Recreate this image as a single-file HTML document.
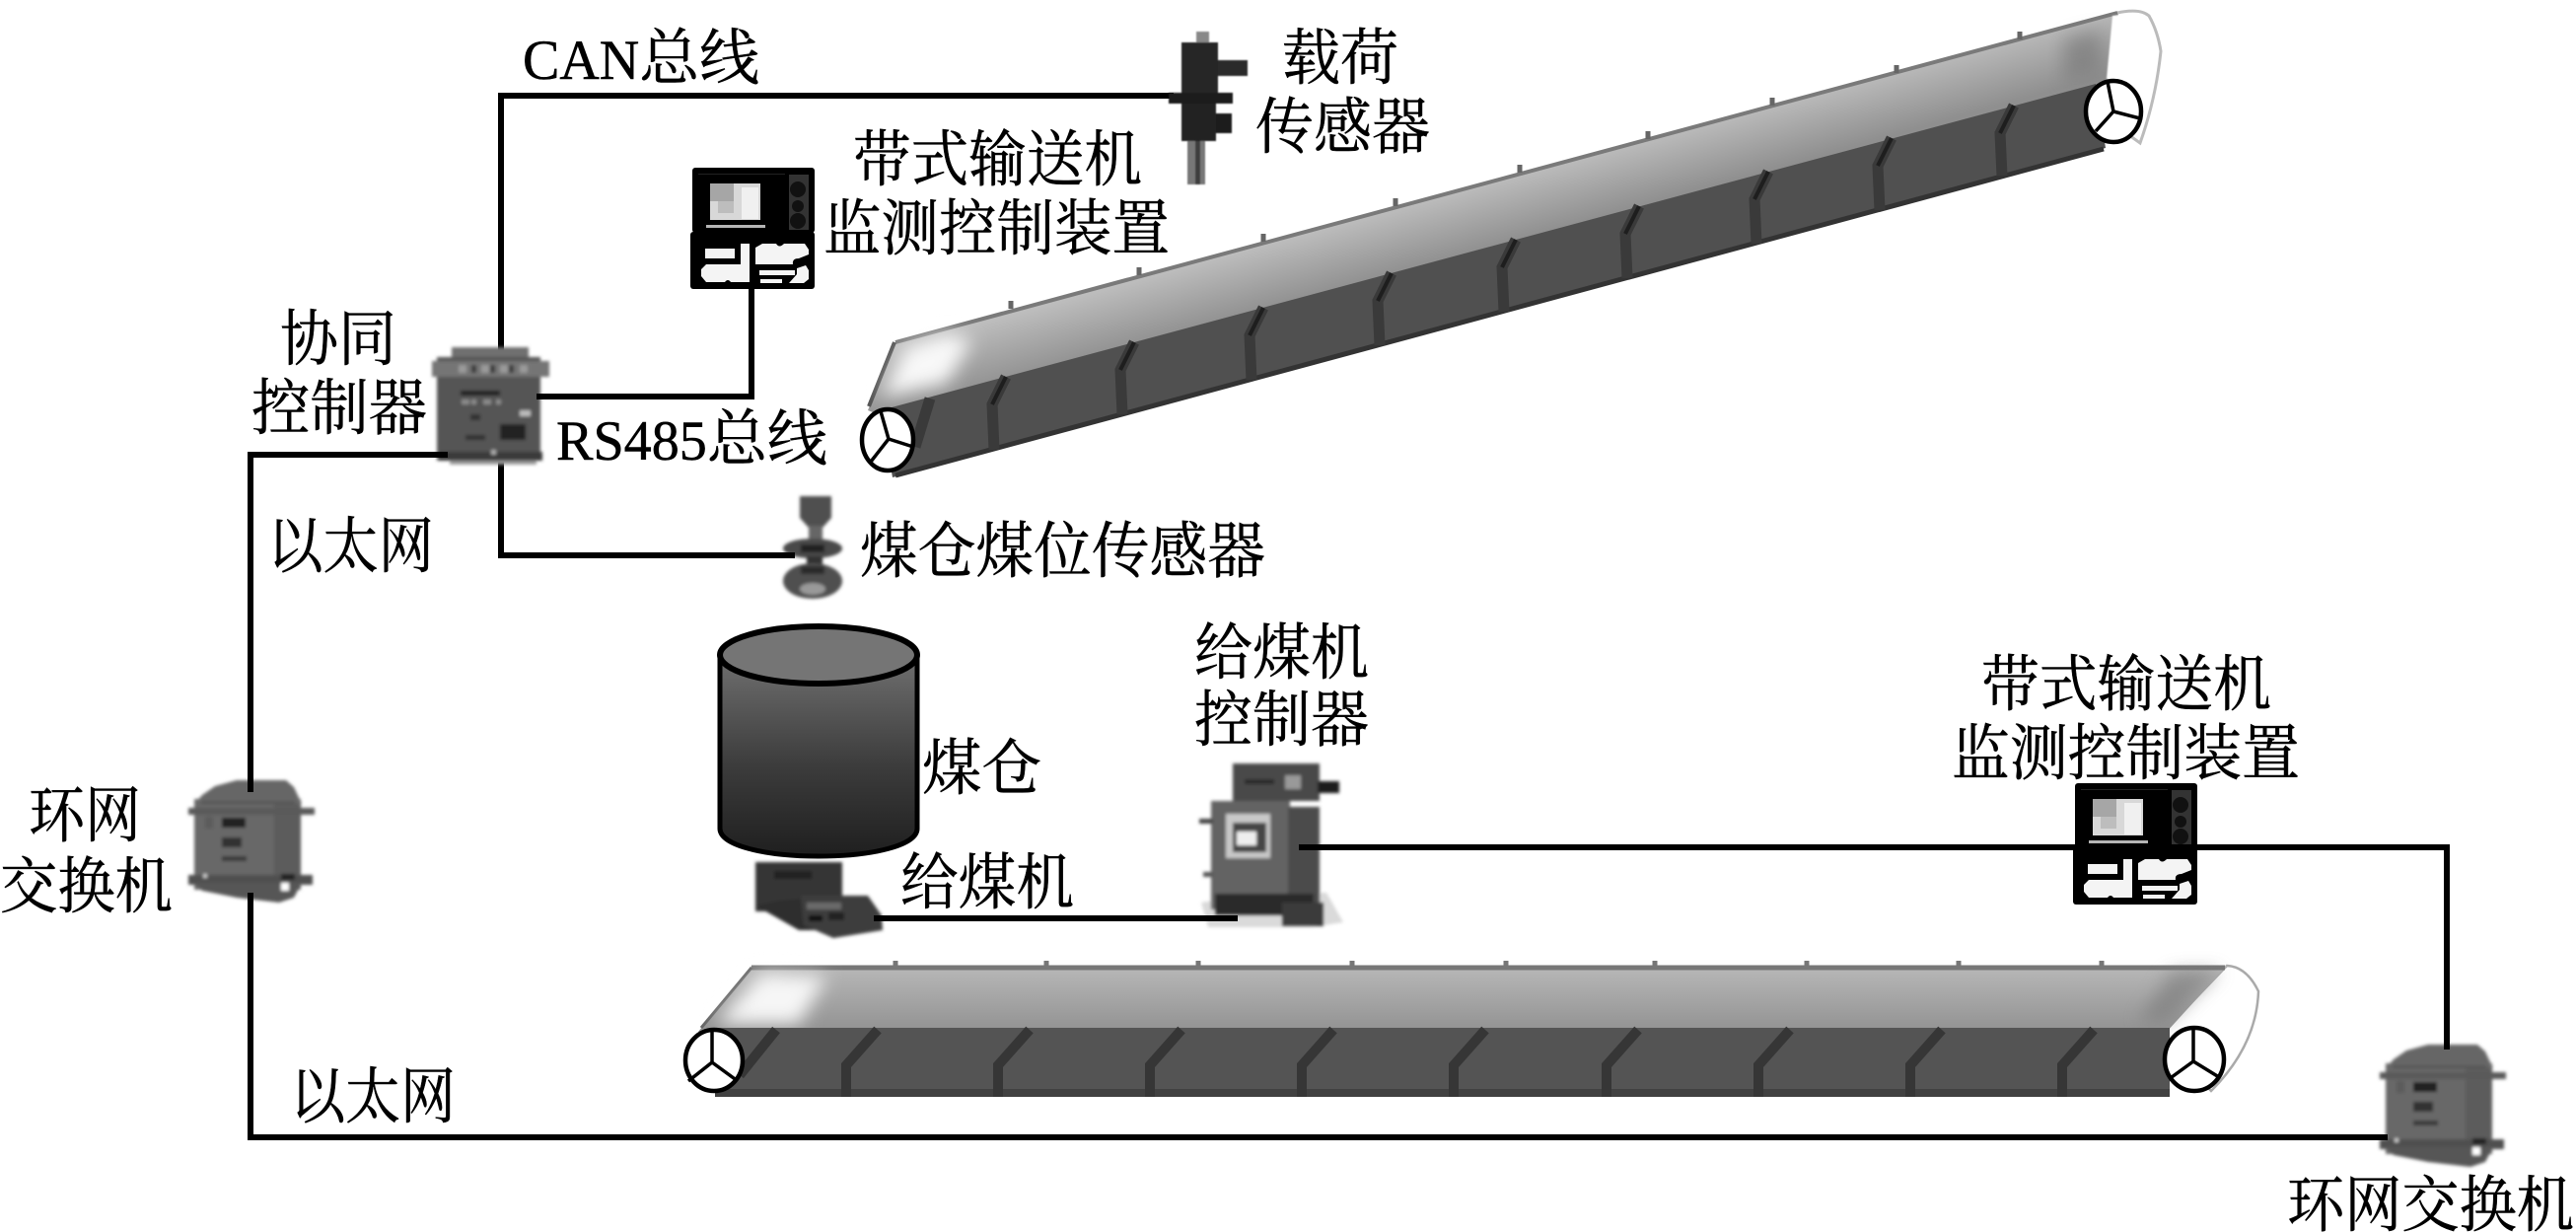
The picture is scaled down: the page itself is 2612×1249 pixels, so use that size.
<!DOCTYPE html>
<html><head><meta charset="utf-8"><style>
html,body{margin:0;padding:0;background:#fff;width:2612px;height:1249px;overflow:hidden}
svg{display:block}
text{font-family:"Liberation Serif","Noto Serif CJK SC",serif;font-size:62px;fill:#000;stroke:#000;stroke-width:.5}
tspan.l{font-size:57px}
</style></head><body>
<svg width="2612" height="1249" viewBox="0 0 2612 1249" xmlns="http://www.w3.org/2000/svg">
<defs>
<filter id="b1" x="-10%" y="-10%" width="120%" height="120%"><feGaussianBlur stdDeviation="1.6"/></filter>
<filter id="b2" x="-10%" y="-10%" width="120%" height="120%"><feGaussianBlur stdDeviation="0.9"/></filter>
<filter id="b6" x="-40%" y="-40%" width="180%" height="180%"><feGaussianBlur stdDeviation="9"/></filter>
<linearGradient id="cyl" x1="0" y1="0" x2="0" y2="1"><stop offset="0" stop-color="#707070"/><stop offset="0.55" stop-color="#3c3c3c"/><stop offset="1" stop-color="#1f1f1f"/></linearGradient>
<linearGradient id="top1" gradientUnits="userSpaceOnUse" x1="1500" y1="186" x2="1518" y2="250"><stop offset="0" stop-color="#bdbdbd"/><stop offset="1" stop-color="#8f8f8f"/></linearGradient>
<linearGradient id="top2" x1="0" y1="0" x2="0" y2="1"><stop offset="0" stop-color="#b8b8b8"/><stop offset="1" stop-color="#929292"/></linearGradient>
<g id="mon">
<rect x="702" y="170" width="124" height="66" rx="3" fill="#000"/>
<rect x="700" y="235" width="126" height="58" rx="3" fill="#000"/>
<rect x="800" y="177" width="20" height="56" fill="#333"/>
<circle cx="809" cy="192" r="8" fill="#111"/><circle cx="809" cy="209" r="6" fill="#111"/><circle cx="809" cy="224" r="8" fill="#111"/>
<rect x="708" y="176" width="88" height="1" fill="#222"/>
<rect x="720" y="186" width="51" height="37" fill="#d8d8d8"/>
<rect x="720" y="186" width="24" height="18" fill="#a6a6a6"/>
<rect x="728" y="204" width="16" height="12" fill="#bdbdbd"/>
<rect x="752" y="190" width="17" height="32" fill="#f0f0f0"/>
<rect x="716" y="228" width="60" height="3" fill="#b5b5b5"/>
<rect x="715" y="252" width="30" height="10" fill="#f4f4f4"/>
<path d="M760 247H751V268H716L711 273V280L716 286H735Q738 282 741 286H760Z" fill="#f4f4f4"/>
<path d="M766 251L773 247H787Q790 252 795 247H816L820 253V258L810 262Q803 262 804 268H766Z" fill="#f4f4f4"/>
<rect x="770" y="274" width="36" height="5" fill="#f4f4f4"/><rect x="771" y="283" width="22" height="4" fill="#f4f4f4"/>
<path d="M800 287L808 278V272L817 269L820 274V283L815 287Z" fill="#f4f4f4"/>
</g>
<g id="sw" filter="url(#b1)">
<path d="M205 806L218 797L240 791H290L298 798L306 815H197Z" fill="#666"/>
<rect x="197" y="810" width="108" height="92" fill="#686868"/>
<rect x="204" y="812" width="95" height="3" fill="#575757"/>
<rect x="278" y="815" width="27" height="85" fill="#5c5c5c"/>
<rect x="191" y="819" width="128" height="7" fill="#5a5a5a"/>
<rect x="191" y="887" width="126" height="10" fill="#505050"/>
<path d="M197 895H306L298 910L283 915L240 910L205 903Z" fill="#575757"/>
<rect x="225" y="829" width="24" height="10" fill="#222"/>
<rect x="225" y="849" width="20" height="10" fill="#333"/>
<rect x="225" y="868" width="25" height="5" fill="#3a3a3a"/>
<rect x="285" y="886" width="14" height="6" fill="#222"/>
<rect x="285" y="895" width="8" height="8" fill="#fff"/>
<rect x="206" y="886" width="4" height="4" fill="#ccc"/>
<rect x="208" y="828" width="8" height="12" fill="#5c5c5c"/>
</g>
</defs>
<rect width="2612" height="1249" fill="#fff"/>

<!-- upper conveyor -->
<path d="M2147 13Q2170 8 2179 16Q2188 32 2191 52Q2186 100 2170 145L2135 120L2130 70Z" fill="#fff" stroke="#bbb" stroke-width="3"/>
<path d="M907 347L2147 13L2137 84L890 420L880 416Z" fill="url(#top1)"/>
<path d="M908 347L2147 13" stroke="#7a7a7a" stroke-width="4" fill="none"/>
<path d="M907 347L881 412" stroke="#555" stroke-width="4" fill="none"/>
<path d="M918 352L894 402L960 388L985 345L960 338Z" fill="#f8f8f8" filter="url(#b6)"/>
<path d="M2093 40L2130 30L2132 74L2093 84Z" fill="#7c7c7c" opacity=".7" filter="url(#b6)"/>
<path d="M2142 16L2136 80L2165 90L2178 30L2170 14Z" fill="#fff" filter="url(#b2)"/>
<path d="M893 416L2125 85L2135 150L905 484Z" fill="#505050"/>
<path d="M908 482L2133 151" stroke="#333" stroke-width="5" fill="none"/>
<g stroke="#3a3a3a" stroke-width="11" fill="none">
<path d="M943 404L928 453"/>
<path d="M1020 382L1006 410L1008 456"/><path d="M1150 347L1136 375L1138 420"/><path d="M1281 312L1267 340L1269 385"/><path d="M1411 277L1397 305L1399 350"/><path d="M1537 243L1523 271L1525 316"/><path d="M1662 209L1648 237L1650 282"/><path d="M1793 174L1779 202L1781 247"/><path d="M1918 140L1904 168L1906 213"/><path d="M2042 107L2028 135L2030 178"/>
</g>
<g stroke="#1e1e1e" stroke-width="4" fill="none">
<path d="M1020 382L1006 410"/><path d="M1150 347L1136 375"/><path d="M1281 312L1267 340"/><path d="M1411 277L1397 305"/><path d="M1537 243L1523 271"/><path d="M1662 209L1648 237"/><path d="M1793 174L1779 202"/><path d="M1918 140L1904 168"/><path d="M2042 107L2028 135"/>
</g>
<g stroke="#666" stroke-width="5">
<path d="M1025 305V313"/><path d="M1155 271V279"/><path d="M1281 237V245"/><path d="M1415 201V209"/><path d="M1541 167V175"/><path d="M1671 133V141"/><path d="M1797 99V107"/><path d="M1923 66V74"/><path d="M2048 32V40"/>
</g>
<g fill="#fff" stroke="#000" stroke-width="4.5">
<ellipse cx="900" cy="446" rx="26" ry="31"/>
<ellipse cx="2143" cy="113" rx="28" ry="31"/>
</g>
<g stroke="#000" stroke-width="3.5" fill="none">
<path d="M901 445L893 417M901 445L926 453M901 445L883 468"/>
<path d="M2143 113L2137 83M2143 113L2170 120M2143 113L2125 133"/>
</g>

<!-- lower conveyor -->
<path d="M2258 979Q2278 980 2290 1005Q2288 1060 2242 1106L2190 1050Z" fill="#fff" stroke="#aaa" stroke-width="2.5"/>
<path d="M762 979L2258 979L2197 1046L708 1046Z" fill="url(#top2)"/>
<path d="M762 981H2256" stroke="#777" stroke-width="5"/>
<path d="M762 981L711 1042" stroke="#666" stroke-width="3"/>
<path d="M772 986L726 1038H810L838 990Z" fill="#f6f6f6" filter="url(#b6)"/>
<path d="M2252 984L2198 1036H2168L2202 985Z" fill="#777" opacity=".6" filter="url(#b6)"/>
<rect x="725" y="1042" width="1475" height="70" fill="#545454"/>
<rect x="725" y="1104" width="1475" height="8" fill="#414141"/>
<g stroke="#363636" stroke-width="10" fill="none">
<path d="M787 1044L750 1090"/>
<path d="M890 1044L858 1080V1112"/><path d="M1044 1044L1012 1080V1112"/><path d="M1198 1044L1166 1080V1112"/><path d="M1352 1044L1320 1080V1112"/><path d="M1506 1044L1474 1080V1112"/><path d="M1661 1044L1629 1080V1112"/><path d="M1815 1044L1783 1080V1112"/><path d="M1969 1044L1937 1080V1112"/><path d="M2123 1044L2091 1080V1112"/>
</g>
<g stroke="#777" stroke-width="5">
<path d="M908 974V983M1061 974V983M1215 974V983M1371 974V983M1527 974V983M1678 974V983M1832 974V983M1986 974V983M2131 974V983"/>
</g>
<g fill="#fff" stroke="#000" stroke-width="4.5">
<ellipse cx="724" cy="1075" rx="29" ry="31"/>
<ellipse cx="2225" cy="1074" rx="30" ry="32"/>
</g>
<g stroke="#000" stroke-width="3.5" fill="none">
<path d="M722 1077V1044M722 1077L698 1096M722 1077L748 1096"/>
<path d="M2224 1076V1042M2224 1076L2202 1092M2224 1076L2250 1092"/>
</g>

<!-- connector lines -->
<g stroke="#000" stroke-width="6" fill="none" stroke-linejoin="miter">
<path d="M1190 97H508V355"/>
<path d="M544 402H762V290"/>
<path d="M508 468V563H806"/>
<path d="M456 461H254V803"/>
<path d="M254 905V1153H2421"/>
<path d="M886 931H1255"/>
</g>

<!-- load sensor -->
<g filter="url(#b2)">
<rect x="1213" y="32" width="13" height="11" fill="#888"/>
<rect x="1198" y="43" width="37" height="52" fill="#262626"/>
<rect x="1235" y="61" width="30" height="16" fill="#2a2a2a"/>
<rect x="1185" y="94" width="65" height="11" fill="#1a1a1a"/>
<rect x="1198" y="105" width="35" height="38" fill="#222"/>
<rect x="1233" y="115" width="16" height="20" fill="#1a1a1a"/>
<rect x="1204" y="143" width="18" height="44" fill="#777"/>
<rect x="1212" y="143" width="5" height="44" fill="#3c3c3c"/>
</g>

<!-- monitors -->
<use href="#mon"/>
<use href="#mon" transform="translate(1402 624)"/>
<path d="M1317 859H2481V1064" stroke="#000" stroke-width="6" fill="none"/>

<!-- collaborative controller -->
<g filter="url(#b1)">
<rect x="458" y="352" width="78" height="14" fill="#707070"/>
<rect x="443" y="362" width="105" height="105" fill="#555"/>
<rect x="438" y="366" width="119" height="16" fill="#757575"/>
<g fill="#3c3c3c"><rect x="478" y="370" width="5" height="8"/><rect x="497" y="370" width="5" height="8"/><rect x="516" y="370" width="5" height="8"/></g>
<g fill="#9a9a9a"><rect x="465" y="370" width="8" height="8"/><rect x="488" y="370" width="8" height="8"/><rect x="507" y="370" width="8" height="8"/><rect x="527" y="370" width="8" height="8"/></g>
<rect x="467" y="396" width="40" height="5" fill="#222"/>
<g fill="#8c8c8c"><rect x="468" y="405" width="8" height="5"/><rect x="478" y="405" width="5" height="5"/><rect x="490" y="405" width="8" height="5"/><rect x="503" y="405" width="5" height="5"/></g>
<rect x="477" y="420" width="10" height="6" fill="#333"/>
<rect x="527" y="416" width="11" height="6" fill="#bcbcbc"/>
<rect x="507" y="430" width="26" height="16" fill="#222"/>
<rect x="472" y="441" width="20" height="5" fill="#333"/>
<rect x="445" y="458" width="105" height="9" fill="#3a3a3a"/>
<rect x="456" y="467" width="88" height="4" fill="#9a9a9a"/>
<rect x="498" y="456" width="5" height="5" fill="#aaa"/>
</g>
<path d="M544 402H562" stroke="#000" stroke-width="6"/>
<path d="M400 461H454" stroke="#000" stroke-width="6"/>

<!-- level sensor -->
<g filter="url(#b1)">
<path d="M811 503H843V525L834 535H820L811 525Z" fill="#505050"/>
<rect x="820" y="533" width="14" height="17" fill="#666"/>
<ellipse cx="824" cy="556" rx="30" ry="10" fill="#4a4a4a"/>
<rect x="812" y="552" width="24" height="8" fill="#222"/>
<rect x="818" y="564" width="16" height="10" fill="#333"/>
<ellipse cx="824" cy="589" rx="30" ry="18" fill="#505050"/>
<ellipse cx="824" cy="597" rx="13" ry="6" fill="#999"/>
<rect x="812" y="574" width="24" height="8" fill="#2a2a2a"/>
</g>
<path d="M790 563H806" stroke="#000" stroke-width="6"/>

<!-- silo -->
<path d="M730 664V840C730 857 775 868 830 868C885 868 930 857 930 840V664Z" fill="url(#cyl)" stroke="#000" stroke-width="5"/>
<ellipse cx="830" cy="664" rx="100" ry="29" fill="#757575" stroke="#000" stroke-width="6"/>

<!-- feeder -->
<g filter="url(#b1)">
<rect x="766" y="874" width="88" height="50" fill="#353535"/>
<path d="M766 918L810 943H850V908L790 913Z" fill="#2e2e2e"/>
<path d="M812 908H880L894 928L895 943L845 951L815 938Z" fill="#3e3e3e"/>
<rect x="818" y="915" width="35" height="7" fill="#6a6a6a"/>
<rect x="820" y="928" width="14" height="6" fill="#111"/>
<rect x="840" y="925" width="16" height="8" fill="#222"/>
<rect x="785" y="883" width="38" height="8" fill="#222"/>
</g>
<path d="M886 931H900" stroke="#000" stroke-width="6"/>

<!-- feeder controller -->
<g filter="url(#b1)">
<path d="M1280 905H1345L1362 935L1330 940H1225L1218 915Z" fill="#bbb" opacity=".55"/>
<rect x="1250" y="774" width="88" height="38" fill="#4a4a4a"/>
<rect x="1303" y="786" width="16" height="14" fill="#999"/>
<rect x="1262" y="790" width="30" height="5" fill="#2a2a2a"/>
<rect x="1336" y="792" width="22" height="12" fill="#1d1d1d"/>
<rect x="1228" y="812" width="80" height="110" fill="#646464"/>
<rect x="1216" y="830" width="14" height="5" fill="#444"/>
<rect x="1220" y="884" width="10" height="5" fill="#555"/>
<rect x="1306" y="818" width="32" height="108" fill="#4c4c4c"/>
<rect x="1243" y="825" width="45" height="45" fill="#c8c8c8"/>
<rect x="1250" y="834" width="34" height="30" fill="#444"/>
<rect x="1254" y="843" width="20" height="14" fill="#eee"/>
<rect x="1232" y="906" width="100" height="22" fill="#2c2c2c"/>
<rect x="1300" y="915" width="42" height="24" fill="#3a3a3a"/>
</g>
<path d="M1317 859H1370" stroke="#000" stroke-width="6"/>
<path d="M1200 931H1255" stroke="#000" stroke-width="6"/>

<!-- switches -->
<use href="#sw"/>
<use href="#sw" transform="translate(2222 268)"/>
<path d="M254 785V803M254 905V925" stroke="#000" stroke-width="6"/>
<path d="M2481 1045V1064M2400 1153H2421" stroke="#000" stroke-width="6"/>

<!-- labels -->
<text x="530" y="80" textLength="240" lengthAdjust="spacingAndGlyphs"><tspan class="l">CAN</tspan>总线</text>
<text x="1300" y="80" textLength="118" lengthAdjust="spacingAndGlyphs">载荷</text>
<text x="1273" y="150" textLength="177" lengthAdjust="spacingAndGlyphs">传感器</text>
<text x="865" y="183" textLength="293" lengthAdjust="spacingAndGlyphs">带式输送机</text>
<text x="835" y="253" textLength="351" lengthAdjust="spacingAndGlyphs">监测控制装置</text>
<text x="284" y="365" textLength="118" lengthAdjust="spacingAndGlyphs">协同</text>
<text x="255" y="435" textLength="178" lengthAdjust="spacingAndGlyphs">控制器</text>
<text x="564" y="466" textLength="275" lengthAdjust="spacingAndGlyphs"><tspan class="l">RS485</tspan>总线</text>
<text x="271" y="575" textLength="169" lengthAdjust="spacingAndGlyphs">以太网</text>
<text x="872" y="580" textLength="411" lengthAdjust="spacingAndGlyphs">煤仓煤位传感器</text>
<text x="935" y="800" textLength="121" lengthAdjust="spacingAndGlyphs">煤仓</text>
<text x="913" y="916" textLength="176" lengthAdjust="spacingAndGlyphs">给煤机</text>
<text x="29" y="848" textLength="114" lengthAdjust="spacingAndGlyphs">环网</text>
<text x="0" y="920" textLength="175" lengthAdjust="spacingAndGlyphs">交换机</text>
<text x="294" y="1133" textLength="168" lengthAdjust="spacingAndGlyphs">以太网</text>
<text x="1211" y="683" textLength="177" lengthAdjust="spacingAndGlyphs">给煤机</text>
<text x="1211" y="751" textLength="177" lengthAdjust="spacingAndGlyphs">控制器</text>
<text x="2009" y="715" textLength="294" lengthAdjust="spacingAndGlyphs">带式输送机</text>
<text x="1979" y="785" textLength="353" lengthAdjust="spacingAndGlyphs">监测控制装置</text>
<text x="2319" y="1243" textLength="291" lengthAdjust="spacingAndGlyphs">环网交换机</text>
</svg>
</body></html>
